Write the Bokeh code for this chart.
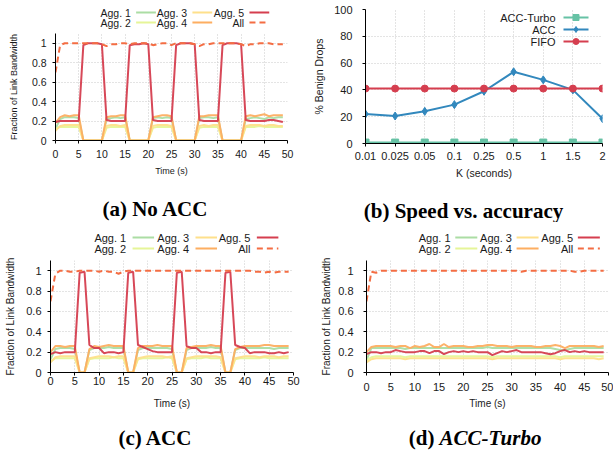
from bokeh.plotting import figure
from bokeh.models import Range1d, FixedTicker
from bokeh.layouts import row, column
from bokeh.embed import file_html
from bokeh.resources import INLINE
from bokeh.core.properties import value

# ---------------- data ----------------
TIME = list(range(50))
AGG_NAMES = ["Agg. 1", "Agg. 2", "Agg. 3", "Agg. 4", "Agg. 5", "All"]
AGG_COLORS = ["#abdda4", "#e6f598", "#fee08b", "#fdae61", "#d53e4f", "#f46d43"]
TIME_TICKS = [0, 5, 10, 15, 20, 25, 30, 35, 40, 45, 50]
FRAC_TICKS = [0, 0.2, 0.4, 0.6, 0.8, 1]
FRAC_LABELS = ["0", "0.2", "0.4", "0.6", "0.8", "1"]

# (a) No ACC
A_AGG1 = [0.12, 0.22, 0.24, 0.24, 0.24, 0.23, 0, 0, 0, 0,
          0, 0.22, 0.23, 0.24, 0.23, 0.24, 0, 0, 0, 0,
          0, 0.23, 0.24, 0.23, 0.24, 0.23, 0, 0, 0, 0,
          0, 0.23, 0.24, 0.24, 0.23, 0.24, 0, 0, 0, 0,
          0, 0.22, 0.23, 0.24, 0.23, 0.22, 0.24, 0.23, 0.24, 0.24]
A_AGG2 = [0.12, 0.14, 0.14, 0.14, 0.14, 0.14, 0, 0, 0, 0,
          0, 0.13, 0.14, 0.14, 0.14, 0.14, 0, 0, 0, 0,
          0, 0.13, 0.14, 0.14, 0.14, 0.14, 0, 0, 0, 0,
          0, 0.13, 0.14, 0.14, 0.14, 0.14, 0, 0, 0, 0,
          0, 0.14, 0.14, 0.14, 0.15, 0.14, 0.14, 0.14, 0.14, 0.14]
A_AGG3 = [0.10, 0.15, 0.16, 0.16, 0.16, 0.16, 0, 0, 0, 0,
          0, 0.15, 0.16, 0.16, 0.15, 0.16, 0, 0, 0, 0,
          0, 0.15, 0.16, 0.16, 0.16, 0.15, 0, 0, 0, 0,
          0, 0.15, 0.16, 0.15, 0.16, 0.16, 0, 0, 0, 0,
          0, 0.15, 0.16, 0.16, 0.16, 0.15, 0.16, 0.16, 0.15, 0.15]
A_AGG4 = [0.18, 0.24, 0.26, 0.25, 0.26, 0.26, 0, 0, 0, 0,
          0, 0.24, 0.25, 0.25, 0.26, 0.26, 0, 0, 0, 0,
          0, 0.24, 0.25, 0.26, 0.26, 0.25, 0, 0, 0, 0,
          0, 0.25, 0.25, 0.26, 0.26, 0.26, 0, 0, 0, 0,
          0, 0.25, 0.26, 0.25, 0.26, 0.27, 0.25, 0.26, 0.26, 0.26]
A_AGG5 = [0.19, 0.20, 0.20, 0.20, 0.20, 0.20, 0.98, 1.00, 1.00, 1.00,
          0.99, 0.21, 0.20, 0.20, 0.20, 0.20, 0.98, 0.99, 0.99, 1.00,
          0.99, 0.21, 0.20, 0.20, 0.20, 0.20, 0.98, 1.00, 1.00, 1.00,
          0.99, 0.21, 0.20, 0.20, 0.20, 0.20, 0.98, 1.00, 1.00, 1.00,
          0.99, 0.21, 0.20, 0.20, 0.20, 0.20, 0.21, 0.21, 0.20, 0.19]
A_ALL = [0.70, 0.98, 1.00, 1.00, 1.00, 1.00, 1.00, 1.00, 1.00, 1.00,
         0.99, 0.97, 0.99, 0.99, 1.00, 1.00, 0.99, 1.00, 1.00, 1.00,
         1.00, 0.98, 0.99, 1.00, 1.00, 0.98, 1.00, 1.00, 1.00, 1.00,
         0.99, 0.97, 0.99, 0.99, 1.00, 1.00, 1.00, 1.00, 1.00, 1.00,
         0.99, 0.97, 0.99, 0.99, 1.00, 1.00, 1.00, 0.99, 0.99, 0.99]

# (b) Speed vs. accuracy
K_LABELS = ["0.01", "0.025", "0.05", "0.1", "0.25", "0.5", "1", "1.5", "2"]
B_NAMES = ["ACC-Turbo", "ACC", "FIFO"]
B_COLORS = ["#66c2a5", "#3288bd", "#d53e4f"]
B_MARKERS = ["square", "diamond", "circle"]
TURBO = [0.7, 0.7, 0.7, 0.7, 0.7, 0.7, 0.7, 0.7, 0.7]
ACC = [22, 20.5, 24, 29, 39, 53.5, 47.5, 40, 18.5]
FIFO = [41, 41, 41, 41, 41, 41, 41, 41, 41]
DROP_TICKS = [0, 20, 40, 60, 80, 100]

# (c) ACC
C_AGG1 = [0.13, 0.23, 0.24, 0.24, 0.24, 0.23, 0, 0, 0.22, 0.24,
          0.24, 0.24, 0.25, 0.24, 0.24, 0.24, 0, 0, 0.22, 0.24,
          0.24, 0.24, 0.24, 0.24, 0.24, 0.23, 0, 0, 0.22, 0.24,
          0.24, 0.24, 0.24, 0.25, 0.24, 0.24, 0, 0, 0.22, 0.24,
          0.24, 0.24, 0.24, 0.24, 0.24, 0.24, 0.23, 0.24, 0.24, 0.24]
C_AGG2 = [0.11, 0.14, 0.14, 0.14, 0.14, 0.14, 0, 0, 0.13, 0.14,
          0.14, 0.14, 0.14, 0.15, 0.14, 0.14, 0, 0, 0.13, 0.14,
          0.14, 0.14, 0.14, 0.14, 0.15, 0.14, 0, 0, 0.13, 0.14,
          0.14, 0.14, 0.15, 0.14, 0.14, 0.14, 0, 0, 0.13, 0.14,
          0.14, 0.14, 0.14, 0.14, 0.15, 0.14, 0.14, 0.14, 0.14, 0.14]
C_AGG3 = [0.10, 0.15, 0.16, 0.16, 0.16, 0.16, 0, 0, 0.14, 0.15,
          0.16, 0.16, 0.16, 0.15, 0.16, 0.16, 0, 0, 0.14, 0.15,
          0.16, 0.16, 0.16, 0.16, 0.15, 0.16, 0, 0, 0.14, 0.15,
          0.16, 0.16, 0.16, 0.16, 0.16, 0.15, 0, 0, 0.14, 0.15,
          0.16, 0.16, 0.16, 0.15, 0.16, 0.16, 0.16, 0.15, 0.16, 0.16]
C_AGG4 = [0.20, 0.26, 0.26, 0.25, 0.26, 0.26, 0, 0, 0.23, 0.26,
          0.25, 0.26, 0.27, 0.26, 0.26, 0.26, 0, 0, 0.24, 0.26,
          0.26, 0.26, 0.27, 0.26, 0.26, 0.26, 0, 0, 0.24, 0.25,
          0.26, 0.26, 0.26, 0.27, 0.26, 0.26, 0, 0, 0.23, 0.25,
          0.26, 0.26, 0.26, 0.26, 0.27, 0.27, 0.26, 0.26, 0.26, 0.26]
C_AGG5 = [0.18, 0.20, 0.19, 0.20, 0.20, 0.20, 0.98, 0.99, 0.27, 0.24,
          0.24, 0.19, 0.20, 0.20, 0.19, 0.20, 0.98, 0.99, 0.27, 0.25,
          0.23, 0.21, 0.20, 0.20, 0.20, 0.20, 0.98, 0.99, 0.26, 0.24,
          0.24, 0.20, 0.20, 0.19, 0.20, 0.20, 0.98, 0.99, 0.27, 0.25,
          0.24, 0.19, 0.20, 0.20, 0.20, 0.19, 0.19, 0.20, 0.19, 0.20]
C_ALL = [0.70, 0.97, 1.00, 1.00, 0.99, 0.99, 1.00, 1.00, 1.00, 1.00,
         0.99, 1.00, 0.99, 0.99, 0.97, 0.99, 1.00, 1.00, 1.00, 1.00,
         1.00, 1.00, 1.00, 1.00, 1.00, 1.00, 1.00, 1.00, 1.00, 1.00,
         1.00, 1.00, 1.00, 1.00, 1.00, 1.00, 1.00, 1.00, 1.00, 1.00,
         1.00, 1.00, 0.99, 0.99, 0.98, 0.99, 0.98, 0.99, 0.99, 0.99]

# (d) ACC-Turbo
D_AGG1 = [0.12, 0.24, 0.24, 0.24, 0.24, 0.24, 0.24, 0.24, 0.23, 0.24,
          0.24, 0.24, 0.24, 0.24, 0.24, 0.24, 0.24, 0.24, 0.24, 0.24,
          0.24, 0.24, 0.24, 0.24, 0.24, 0.25, 0.24, 0.24, 0.24, 0.24,
          0.24, 0.24, 0.24, 0.24, 0.24, 0.24, 0.24, 0.24, 0.24, 0.23,
          0.22, 0.22, 0.23, 0.24, 0.24, 0.24, 0.24, 0.24, 0.24, 0.24]
D_AGG2 = [0.12, 0.15, 0.16, 0.16, 0.16, 0.16, 0.16, 0.16, 0.15, 0.16,
          0.16, 0.16, 0.16, 0.16, 0.16, 0.16, 0.16, 0.16, 0.16, 0.16,
          0.16, 0.16, 0.16, 0.16, 0.16, 0.16, 0.15, 0.16, 0.16, 0.16,
          0.16, 0.16, 0.16, 0.16, 0.16, 0.16, 0.16, 0.16, 0.16, 0.16,
          0.15, 0.16, 0.16, 0.16, 0.16, 0.16, 0.16, 0.16, 0.16, 0.16]
D_AGG3 = [0.10, 0.13, 0.14, 0.14, 0.14, 0.14, 0.14, 0.14, 0.13, 0.14,
          0.14, 0.14, 0.14, 0.14, 0.14, 0.14, 0.14, 0.14, 0.14, 0.14,
          0.14, 0.14, 0.14, 0.14, 0.14, 0.14, 0.13, 0.14, 0.14, 0.14,
          0.14, 0.14, 0.14, 0.14, 0.14, 0.14, 0.14, 0.14, 0.14, 0.14,
          0.13, 0.14, 0.14, 0.14, 0.14, 0.14, 0.14, 0.14, 0.13, 0.14]
D_AGG4 = [0.20, 0.25, 0.26, 0.26, 0.26, 0.26, 0.25, 0.26, 0.26, 0.24,
          0.26, 0.25, 0.26, 0.28, 0.25, 0.25, 0.28, 0.25, 0.26, 0.26,
          0.26, 0.25, 0.25, 0.26, 0.26, 0.27, 0.27, 0.26, 0.26, 0.26,
          0.25, 0.26, 0.26, 0.26, 0.26, 0.25, 0.25, 0.26, 0.26, 0.27,
          0.26, 0.24, 0.26, 0.26, 0.26, 0.26, 0.26, 0.26, 0.25, 0.26]
D_AGG5 = [0.18, 0.20, 0.20, 0.19, 0.20, 0.20, 0.22, 0.21, 0.20, 0.20,
          0.20, 0.21, 0.21, 0.19, 0.21, 0.21, 0.18, 0.20, 0.21, 0.20,
          0.21, 0.20, 0.21, 0.20, 0.20, 0.20, 0.17, 0.19, 0.21, 0.20,
          0.21, 0.22, 0.20, 0.20, 0.20, 0.20, 0.20, 0.19, 0.18, 0.19,
          0.21, 0.22, 0.20, 0.21, 0.20, 0.21, 0.20, 0.20, 0.20, 0.20]
D_ALL = [0.70, 0.99, 0.98, 1.00, 1.00, 1.00, 1.00, 1.00, 1.00, 1.00,
         1.00, 1.00, 1.00, 1.00, 1.00, 1.00, 1.00, 1.00, 1.00, 1.00,
         1.00, 1.00, 1.00, 1.00, 1.00, 1.00, 1.00, 1.00, 1.00, 1.00,
         1.00, 1.00, 0.99, 1.00, 1.00, 1.00, 1.00, 1.00, 1.00, 1.00,
         1.00, 1.00, 1.00, 0.99, 0.99, 1.00, 1.00, 1.00, 1.00, 1.00]

CAPTIONS = ["(a) No ACC", "(b) Speed vs. accuracy", "(c) ACC", "(d)", "ACC-Turbo"]

SANS = "Liberation Sans"
SERIF = "Liberation Serif"
GRID_COLOR = "#c8c8c8"
CAP_SIZE = "21px"


def blank_fig(w, h):
    p = figure(width=w, height=h, x_range=Range1d(0, w), y_range=Range1d(h, 0),
               toolbar_location=None, output_backend="svg",
               x_axis_type=None, y_axis_type=None, min_border=0)
    p.outline_line_color = None
    p.border_fill_color = "white"
    p.background_fill_color = "white"
    return p


def data_fig(w, h, bl, br, bt, bb, xr, yr):
    p = figure(width=w, height=h, x_range=xr, y_range=yr,
               toolbar_location=None, output_backend="svg",
               min_border_left=bl, min_border_right=br,
               min_border_top=bt, min_border_bottom=bb)
    p.outline_line_color = None
    p.border_fill_color = "white"
    p.background_fill_color = "white"
    return p


def style_axes(p, xticks, xlabels, yticks, ylabels, xlabel, ylabel,
               xstand, xals, ystand, yals, tick_size, label_size):
    p.xaxis.ticker = FixedTicker(ticks=xticks)
    p.yaxis.ticker = FixedTicker(ticks=yticks)
    p.xgrid.ticker = FixedTicker(ticks=xticks)
    p.ygrid.ticker = FixedTicker(ticks=yticks)
    p.xaxis.major_label_overrides = dict(zip(xticks, xlabels))
    p.yaxis.major_label_overrides = dict(zip(yticks, ylabels))
    for ax in (p.xaxis[0], p.yaxis[0]):
        ax.axis_line_color = "black"
        ax.axis_line_width = 1
        ax.major_tick_line_color = "black"
        ax.major_tick_in = 0
        ax.major_tick_out = 3
        ax.minor_tick_line_color = None
        ax.major_label_text_font = SANS
        ax.major_label_text_font_size = tick_size
        ax.major_label_text_color = "#1a1a1a"
        ax.axis_label_text_font = SANS
        ax.axis_label_text_font_size = label_size
        ax.axis_label_text_font_style = "normal"
        ax.axis_label_text_color = "#1a1a1a"
    p.xaxis.axis_label = xlabel
    p.yaxis.axis_label = ylabel
    p.xaxis.major_label_standoff = xstand
    p.xaxis.axis_label_standoff = xals
    p.yaxis.major_label_standoff = ystand
    p.yaxis.axis_label_standoff = yals
    for g in (p.xgrid[0], p.ygrid[0]):
        g.grid_line_color = GRID_COLOR
        g.grid_line_dash = "1 2"
        g.grid_line_width = 1


def time_panel(w, h, bl, br, bt, bb, series, xstand, xals, ystand, yals,
               tick_size, label_size):
    p = data_fig(w, h, bl, br, bt, bb, Range1d(0, 50), Range1d(0, 1.1))
    style_axes(p, TIME_TICKS, [str(v) for v in TIME_TICKS], FRAC_TICKS, FRAC_LABELS,
               "Time (s)", "Fraction of Link Bandwidth", xstand, xals, ystand, yals,
               tick_size, label_size)
    for vals, color, name in zip(series, AGG_COLORS, AGG_NAMES):
        if name == "All":
            p.line(TIME, vals, line_color=color, line_width=2, line_dash="6 4")
        else:
            p.line(TIME, vals, line_color=color, line_width=2, line_alpha=0.95)
    return p


def agg_legend(w, h, text_ends, row_ys, gap, sample_len, font_size):
    p = blank_fig(w, h)
    for i, (name, color) in enumerate(zip(AGG_NAMES, AGG_COLORS)):
        col, r = i // 2, i % 2
        xe = text_ends[col]
        y = row_ys[r]
        p.text(x=[xe], y=[y], text=[name], text_align="right", text_baseline="middle",
               text_font=value(SANS), text_font_size=font_size, text_color="#1a1a1a")
        dash = "6 4" if name == "All" else "solid"
        p.line(x=[xe + gap, xe + gap + sample_len], y=[y, y], line_color=color,
               line_width=2, line_dash=dash)
    return p


# ---------- panel (a) ----------
leg_a = agg_legend(305, 30, [99, 173, 248], [12, 22], 7, 26, "10.5px")
plot_a = time_panel(305, 166, 55, 18, 3, 56,
                    [A_AGG1, A_AGG2, A_AGG3, A_AGG4, A_AGG5, A_ALL], 6, 5, 6, 10,
                    "10.5px", "9px")

# ---------- panel (b) ----------
KX = list(range(len(K_LABELS)))
plot_b = data_fig(308, 196, 60, 11, 9, 53, Range1d(0, len(K_LABELS) - 1), Range1d(0, 100))
style_axes(plot_b, KX, K_LABELS, DROP_TICKS, [str(v) for v in DROP_TICKS],
           "K (seconds)", "% Benign Drops", 5, 4, 10, 6, "11px", "10.5px")
FRAME_B_W, FRAME_B_H = 237, 134
plot_b.extra_x_ranges = {"px": Range1d(0, FRAME_B_W)}
plot_b.extra_y_ranges = {"px": Range1d(FRAME_B_H, 0)}
for vals, color, marker in zip([TURBO, ACC, FIFO], B_COLORS, B_MARKERS):
    plot_b.line(KX, vals, line_color=color, line_width=2)
    plot_b.scatter(KX, vals, marker=marker, size=7 if marker != "diamond" else 8,
                   fill_color=color, line_color=color)
for i, (name, color, marker) in enumerate(zip(B_NAMES, B_COLORS, B_MARKERS)):
    y = 8 + 12 * i
    plot_b.text(x=[190], y=[y], text=[name], text_align="right", text_baseline="middle",
                text_font=value(SANS), text_font_size="11px", text_color="#1a1a1a",
                x_range_name="px", y_range_name="px")
    plot_b.line(x=[198, 223], y=[y, y], line_color=color, line_width=2,
                x_range_name="px", y_range_name="px")
    plot_b.scatter(x=[210.5], y=[y], marker=marker, size=6, fill_color=color,
                   line_color=color, x_range_name="px", y_range_name="px")

# ---------- captions row 1 ----------
cap1 = blank_fig(613, 26)
cap1.text(x=[155, 463], y=[12, 14], text=CAPTIONS[:2], text_align="center",
          text_baseline="middle", text_font=value(SERIF), text_font_style="bold",
          text_font_size=CAP_SIZE, text_color="black")

# ---------- panel (c) ----------
leg_c = agg_legend(305, 33, [95, 174, 251], [15, 26], 8, 27, "11px")
plot_c = time_panel(305, 165, 50, 12, 5, 48,
                    [C_AGG1, C_AGG2, C_AGG3, C_AGG4, C_AGG5, C_ALL], 1, 10, 6, 7,
                    "11px", "10px")

# ---------- panel (d) ----------
leg_d = agg_legend(308, 33, [107, 185, 263], [15, 26], 6, 28, "11px")
plot_d = time_panel(308, 165, 61, 5, 5, 48,
                    [D_AGG1, D_AGG2, D_AGG3, D_AGG4, D_AGG5, D_ALL], 7, 4, 10, 3,
                    "11px", "10px")

# ---------- captions row 2 ----------
cap2 = blank_fig(613, 35)
cap2.text(x=[155], y=[17], text=[CAPTIONS[2]], text_align="center",
          text_baseline="middle", text_font=value(SERIF), text_font_style="bold",
          text_font_size=CAP_SIZE, text_color="black")
cap2.text(x=[434], y=[17], text=[CAPTIONS[3]], text_align="right",
          text_baseline="middle", text_font=value(SERIF), text_font_style="bold",
          text_font_size=CAP_SIZE, text_color="black")
cap2.text(x=[439], y=[17], text=[CAPTIONS[4]], text_align="left",
          text_baseline="middle", text_font=value(SERIF), text_font_style="bold italic",
          text_font_size=CAP_SIZE, text_color="black")

layout = column(
    row(column(leg_a, plot_a), plot_b),
    cap1,
    row(column(leg_c, plot_c), column(leg_d, plot_d)),
    cap2,
)

open("out.html", "w").write(file_html(layout, INLINE))
